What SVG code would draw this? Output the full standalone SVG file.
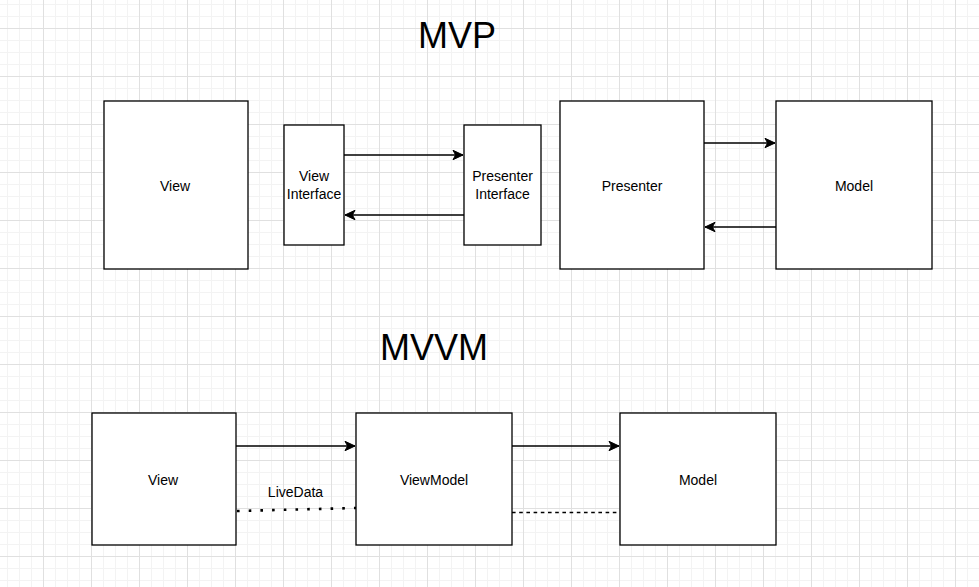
<svg xmlns="http://www.w3.org/2000/svg" width="979" height="587" viewBox="0 0 979 587">
<style>
.box{fill:#fff;stroke:#000;stroke-width:1.3}
.t{font-family:"Liberation Sans",Arial,sans-serif;font-size:14px;fill:#000;text-anchor:middle}
.title{font-family:"Liberation Sans",Arial,sans-serif;font-size:36px;fill:#000;text-anchor:middle}
.c{fill:none;stroke:#000;stroke-width:1.3}
</style>
<defs>
<pattern id="grid" width="48" height="48" x="43" y="28" patternUnits="userSpaceOnUse">
<path d="M12.5 0V48M24.5 0V48M36.5 0V48M0 12.5H48M0 24.5H48M0 36.5H48" stroke="#f3f3f3" stroke-width="1" fill="none"/>
<path d="M0.5 0V48M0 0.5H48" stroke="#e0e0e0" stroke-width="1" fill="none"/>
</pattern>
<marker id="arr" markerUnits="userSpaceOnUse" markerWidth="12" markerHeight="12" refX="10" refY="5" orient="auto" viewBox="0 0 12 10" overflow="visible">
<path d="M10 5L0 0.3L2.6 5L0 9.7Z" fill="#000" stroke="#000" stroke-width="1"/>
</marker>
</defs>
<rect width="979" height="587" fill="#fff"/>
<rect width="979" height="587" fill="url(#grid)"/>
<text class="title" x="457" y="48">MVP</text>
<text class="title" x="434" y="360">MVVM</text>
<g id="mvp-view"><rect class="box" x="104" y="101" width="144" height="168"/><text class="t" x="175" y="191">View</text></g>
<g id="mvp-view-interface"><rect class="box" x="284" y="125" width="60" height="120"/><text class="t" x="314" y="181">View</text><text class="t" x="314" y="198.5">Interface</text></g>
<g id="mvp-presenter-interface"><rect class="box" x="464" y="125" width="77" height="120"/><text class="t" x="502.5" y="181">Presenter</text><text class="t" x="502.5" y="198.5">Interface</text></g>
<g id="mvp-presenter"><rect class="box" x="560" y="101" width="144" height="168"/><text class="t" x="632" y="191">Presenter</text></g>
<g id="mvp-model"><rect class="box" x="776" y="101" width="156" height="168"/><text class="t" x="854" y="191">Model</text></g>
<g id="mvvm-view"><rect class="box" x="92" y="413" width="144" height="132"/><text class="t" x="163" y="485">View</text></g>
<g id="mvvm-viewmodel"><rect class="box" x="356" y="413" width="156" height="132"/><text class="t" x="434" y="485">ViewModel</text></g>
<g id="mvvm-model"><rect class="box" x="620" y="413" width="156" height="132"/><text class="t" x="698" y="485">Model</text></g>
<g id="connectors">
<path class="c" d="M344 155H463" marker-end="url(#arr)"/>
<path class="c" d="M464 215H345" marker-end="url(#arr)"/>
<path class="c" d="M704 143H775" marker-end="url(#arr)"/>
<path class="c" d="M776 227H705" marker-end="url(#arr)"/>
<path class="c" d="M236 446H355" marker-end="url(#arr)"/>
<path class="c" d="M512 446H619" marker-end="url(#arr)"/>
<path d="M237 511L356 508" fill="none" stroke="#000" stroke-width="2.6" stroke-dasharray="2.6 9.1"/>
<text class="t" x="295.5" y="497">LiveData</text>
<path d="M512 512.5H620" fill="none" stroke="#000" stroke-width="1.3" stroke-dasharray="3.6 3.6"/>
</g>
</svg>
